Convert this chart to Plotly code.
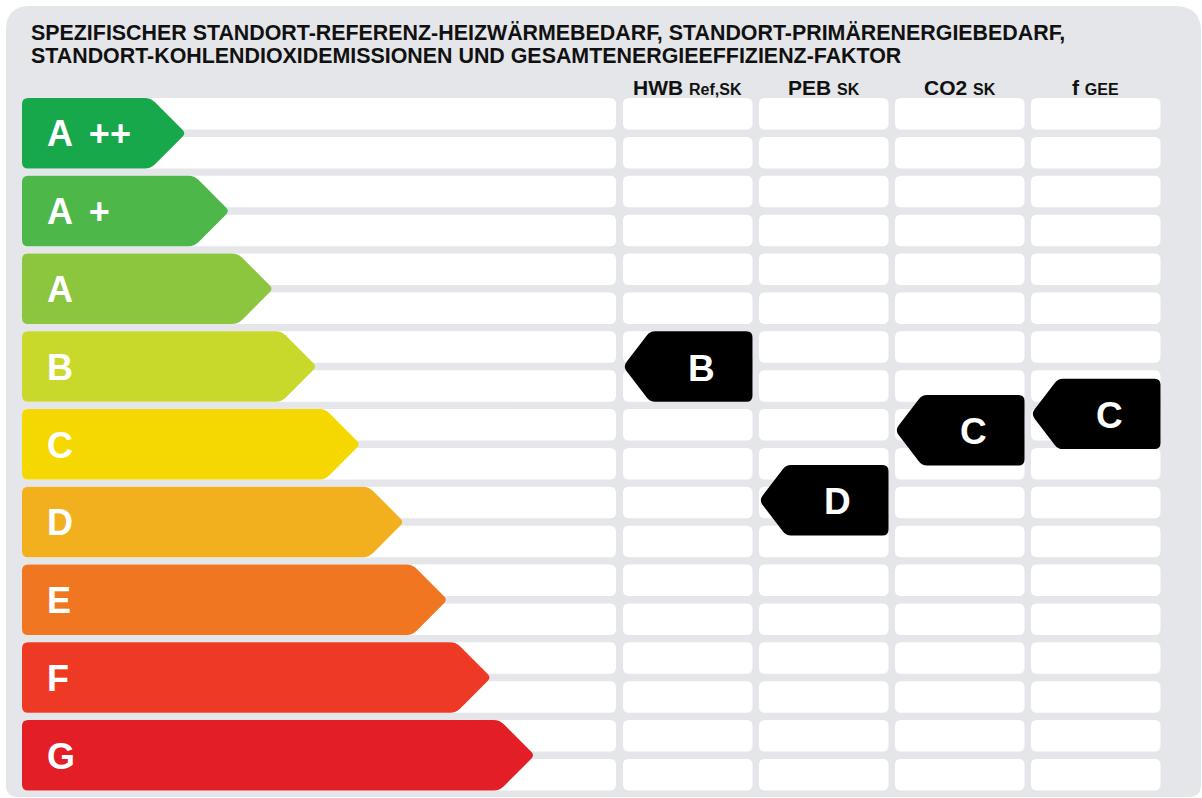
import plotly.graph_objects as go
import math

# ---------------- data ----------------
classes = ["A ++", "A +", "A", "B", "C", "D", "E", "F", "G"]
class_colors = ["#17a84b", "#4db749", "#8cc63f", "#c9d92b", "#f5d800",
                "#f2b01f", "#f07622", "#ee3a24", "#e31e26"]

indicator_names = ["HWB", "PEB", "CO2", "f"]
indicator_subs = ["Ref,SK", "SK", "SK", "GEE"]
indicator_class = ["B", "D", "C", "C"]
# position of each indicator on the class scale (0 = top of A++, 1 = top of A+, ...)
indicator_position = [3.00, 4.72, 3.82, 3.61]

title_lines = [
    "SPEZIFISCHER STANDORT-REFERENZ-HEIZWÄRMEBEDARF, STANDORT-PRIMÄRENERGIEBEDARF,",
    "STANDORT-KOHLENDIOXIDEMISSIONEN UND GESAMTENERGIEEFFIZIENZ-FAKTOR",
]

# ---------------- layout / style constants ----------------
W, H = 1202, 798
TOP = 98.0          # pixel top of class 0
PITCH = 77.76       # pixels per class
CELL_H = 31.5       # white cell height (pixels)
ARROW_H = 0.5 + CELL_H / PITCH  # class arrow height in class units
FONT = "Liberation Sans, Arial, Helvetica, sans-serif"
PANEL = "#e4e6e9"

LEFT_X0, LEFT_X1 = 22, 616
COL_X0 = [623, 759, 895, 1031]
COL_W = 129.5
ARROW_BASE_TIP = 186
ARROW_STEP = 43.6


def v2p(v):
    return TOP + v * PITCH


def p2v(p):
    return (p - TOP) / PITCH


def rounded_path(pts, radii):
    """pts in (x, v) data coords; radii in pixels. Returns SVG path in data coords."""
    P = [(x, v2p(v)) for x, v in pts]
    n = len(P)
    segs = []
    for i in range(n):
        vx, vy = P[i]
        px, py = P[i - 1]
        nx, ny = P[(i + 1) % n]
        d1 = math.hypot(px - vx, py - vy)
        d2 = math.hypot(nx - vx, ny - vy)
        r = min(radii[i], d1 / 2, d2 / 2)
        ax, ay = vx + (px - vx) / d1 * r, vy + (py - vy) / d1 * r
        bx, by = vx + (nx - vx) / d2 * r, vy + (ny - vy) / d2 * r
        segs.append(((ax, ay), (vx, vy), (bx, by)))
    s = ""
    for i, (a, c, b) in enumerate(segs):
        cmd = "M" if i == 0 else "L"
        s += f"{cmd}{a[0]:.2f},{p2v(a[1]):.5f} Q{c[0]:.2f},{p2v(c[1]):.5f} {b[0]:.2f},{p2v(b[1]):.5f} "
    return s + "Z"


shapes = []
annotations = []

# background panel
panel = [(6, p2v(6)), (1201, p2v(6)), (1201, p2v(797)), (6, p2v(797))]
shapes.append(dict(type="path", xref="x", yref="y", layer="below",
                   path=rounded_path(panel, [24, 26, 12, 12]),
                   fillcolor=PANEL, line=dict(width=0)))

# white grid cells (two half-rows per class)
for k in range(len(classes) * 2):
    t = k * 0.5
    b = t + CELL_H / PITCH
    for x0, x1 in [(LEFT_X0, LEFT_X1)] + [(c, c + COL_W) for c in COL_X0]:
        rect = [(x0, t), (x1, t), (x1, b), (x0, b)]
        shapes.append(dict(type="path", xref="x", yref="y", layer="below",
                           path=rounded_path(rect, [6, 6, 6, 6]),
                           fillcolor="#ffffff", line=dict(width=0)))

# class arrows
for i, (lab, col) in enumerate(zip(classes, class_colors)):
    t, b = i, i + ARROW_H
    m = (t + b) / 2
    tip = ARROW_BASE_TIP + ARROW_STEP * i
    depth = (ARROW_H * PITCH) / 2
    pts = [(LEFT_X0, t), (tip - depth, t), (tip, m), (tip - depth, b), (LEFT_X0, b)]
    shapes.append(dict(type="path", xref="x", yref="y", layer="above",
                       path=rounded_path(pts, [6, 6, 5, 6, 6]),
                       fillcolor=col, line=dict(width=0)))
    annotations.append(dict(x=45, y=m + 0.01, xref="x", yref="y",
                            text=f"<b>{lab.replace(' ', ' ' + chr(0x2009))}</b>",
                            showarrow=False, xanchor="left", yanchor="middle",
                            font=dict(family=FONT, size=36, color="#ffffff")))

# column headers
for c, name, sub in zip(COL_X0, indicator_names, indicator_subs):
    annotations.append(dict(x=c + COL_W / 2, y=p2v(87), xref="x", yref="y",
                            text=f"<b>{name}</b> <b><span style='font-size:16px'>{sub}</span></b>",
                            showarrow=False, xanchor="center", yanchor="middle",
                            font=dict(family=FONT, size=21, color="#111111")))

# indicator arrows
TIP_D = 27
for c, cls, pos in zip(COL_X0, indicator_class, indicator_position):
    t, b = pos, pos + ARROW_H
    m = (t + b) / 2
    x1 = c + COL_W
    pts = [(x1, t), (c + TIP_D, t), (c, m), (c + TIP_D, b), (x1, b)]
    shapes.append(dict(type="path", xref="x", yref="y", layer="above",
                       path=rounded_path(pts, [6, 5, 6, 5, 6]),
                       fillcolor="#000000", line=dict(width=0)))
    annotations.append(dict(x=c + TIP_D + (COL_W - TIP_D) / 2, y=m + 0.02, xref="x", yref="y",
                            text=f"<b>{cls}</b>", showarrow=False,
                            xanchor="center", yanchor="middle",
                            font=dict(family=FONT, size=37, color="#ffffff")))

# title
for line, py in zip(title_lines, [33, 56]):
    annotations.append(dict(x=29, y=p2v(py), xref="x", yref="y", text=f"<b>{line}</b>",
                            showarrow=False, xanchor="left", yanchor="middle",
                            font=dict(family=FONT, size=21.4, color="#111111")))

fig = go.Figure()
fig.add_trace(go.Scatter(x=[0, W], y=[p2v(0), p2v(H)], mode="markers",
                         marker=dict(opacity=0), hoverinfo="skip", showlegend=False))
fig.update_layout(
    width=W, height=H,
    margin=dict(l=0, r=0, t=0, b=0),
    paper_bgcolor="#ffffff", plot_bgcolor="#ffffff",
    xaxis=dict(range=[0, W], visible=False, fixedrange=True),
    yaxis=dict(range=[p2v(H), p2v(0)], visible=False, fixedrange=True),
    shapes=shapes, annotations=annotations, showlegend=False,
)
fig.write_html("out.html", config={"displayModeBar": False},
               post_script="document.body.style.margin='0';document.body.style.overflow='hidden';")
